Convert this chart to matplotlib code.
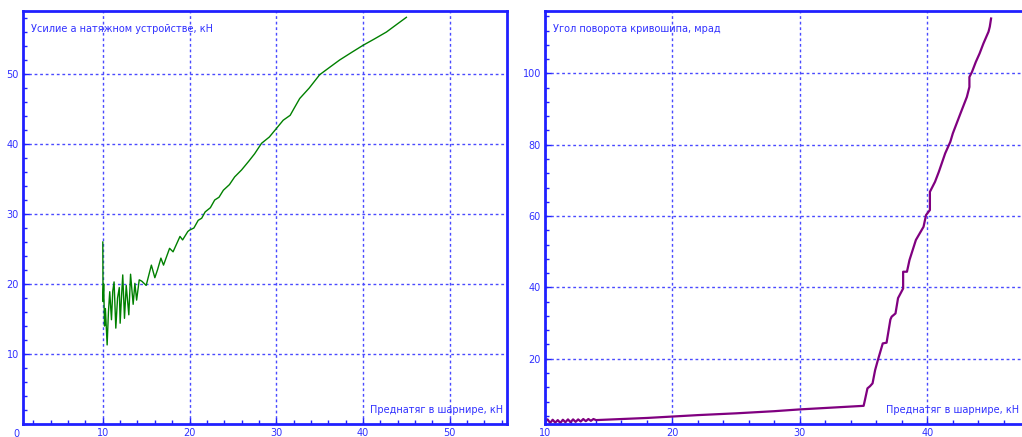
import matplotlib
matplotlib.use('Agg')
import matplotlib.pyplot as plt
from matplotlib.ticker import MultipleLocator
import matplotlib.transforms as mtransforms

# Left chart: tension device force vs hinge preload
force_x = [10.0, 10.03, 10.1, 10.2, 10.3, 10.5, 10.65, 10.8, 11.0, 11.15,
           11.3, 11.5, 11.7, 11.9, 12.0, 12.15, 12.3, 12.5, 12.7, 13.0,
           13.2, 13.5, 13.7, 13.9, 14.2, 14.5, 15.0, 15.6, 16.0, 16.3,
           16.7, 17.0, 17.7, 18.1, 18.9, 19.2, 19.8, 20.0, 20.5, 21.0,
           21.4, 21.8, 22.4, 22.9, 23.4, 23.9, 24.6, 25.2, 26.0, 26.8,
           27.5, 28.3, 29.2, 30.0, 30.8, 31.6, 32.1, 32.7, 33.8, 35.0,
           36.2, 37.3, 38.7, 40.0, 41.3, 42.7, 43.9, 45.0]
force_y = [26.0, 17.5, 20.0, 14.0, 16.5, 11.3, 16.0, 18.9, 14.9, 19.0,
           20.3, 13.7, 18.0, 19.5, 14.4, 18.0, 21.3, 15.1, 19.8, 15.6,
           21.4, 17.1, 20.1, 17.7, 20.6, 20.4, 19.8, 22.7, 20.9, 22.0,
           23.7, 22.7, 25.1, 24.6, 26.8, 26.3, 27.5, 27.7, 28.0, 29.1,
           29.4, 30.3, 30.9, 32.0, 32.4, 33.4, 34.2, 35.3, 36.3, 37.5,
           38.6, 40.1, 41.0, 42.2, 43.4, 44.1, 45.2, 46.5, 48.0, 49.9,
           51.0, 52.0, 53.1, 54.1, 55.0, 56.0, 57.1, 58.1]

# Right chart: crank rotation angle vs hinge preload
angle_x = [10.0, 10.2, 10.4, 10.6, 10.8, 11.0, 11.2, 11.4, 11.6, 11.8,
           12.0, 12.2, 12.4, 12.6, 12.8, 13.0, 13.2, 13.4, 13.6, 13.8,
           14.0, 16.0, 18.0, 20.0, 22.0, 25.0, 28.0, 30.0, 32.0, 35.0,
           35.1, 35.3, 35.5, 35.7, 35.9, 36.1, 36.5, 36.8, 37.1, 37.2,
           37.5, 37.7, 38.1, 38.1, 38.4, 38.6, 39.1, 39.7, 39.9, 40.2,
           40.2, 40.2, 40.6, 40.9, 41.4, 41.8, 42.0, 42.6, 43.1, 43.3,
           43.3, 43.5, 43.8, 44.1, 44.4, 44.8, 44.9, 45.0]
angle_y = [2.3, 3.0, 2.0, 2.9, 2.1, 2.8, 2.0, 2.9, 2.2, 3.0,
           2.2, 3.0, 2.3, 3.0, 2.4, 3.1, 2.5, 3.1, 2.6, 3.1,
           2.8, 3.1, 3.4, 3.8, 4.2, 4.7, 5.3, 5.8, 6.2, 6.8,
           8.4, 11.7, 12.3, 13.1, 16.8, 19.4, 24.3, 24.5, 31.0, 31.8,
           32.7, 37.0, 39.7, 44.4, 44.4, 47.7, 53.3, 57.0, 60.3, 61.7,
           64.6, 66.8, 69.6, 72.4, 77.6, 80.8, 83.2, 88.8, 93.4, 96.2,
           99.0, 100.4, 103.2, 105.6, 108.4, 111.7, 113.1, 115.4]

left_title = 'Усилие а натяжном устройстве, кН'
right_title = 'Угол поворота кривошипа, мрад'
x_title = 'Преднатяг в шарнире, кН'

frame_color = '#2020ff'
text_color = '#3030ff'
grid_color = '#4a4aff'

plt.rcParams['font.family'] = ['DejaVu Sans']

fig = plt.figure(figsize=(10.22, 4.37), dpi=100)
ax1 = fig.add_axes([0.0225, 0.0297, 0.4736, 0.9451])
ax2 = fig.add_axes([0.5333, 0.0297, 0.4726, 0.9451])


def style_axes(ax, xmajor, xminor, ymajor, yminor):
    for s in ax.spines.values():
        s.set_color(frame_color)
        s.set_linewidth(2.0)
    ax.xaxis.set_major_locator(MultipleLocator(xmajor))
    ax.xaxis.set_minor_locator(MultipleLocator(xminor))
    ax.yaxis.set_major_locator(MultipleLocator(ymajor))
    ax.yaxis.set_minor_locator(MultipleLocator(yminor))
    ax.tick_params(which='both', direction='in', colors=frame_color,
                   labelcolor=text_color, labelsize=7)
    ax.tick_params(which='major', length=4, width=1, pad=3)
    ax.tick_params(which='minor', length=3, width=1)
    ax.grid(True, which='major', linestyle=(0, (2, 2)), color=grid_color,
            linewidth=1)
    ax.set_axisbelow(True)


# Left panel
ax1.plot(force_x, force_y, color='#008000', linewidth=1.0)
ax1.set_xlim(0.8, 56.6)
ax1.set_ylim(0, 59)
style_axes(ax1, 10, 2, 10, 2)
ax1.set_yticks([10, 20, 30, 40, 50])
ax1.text(0.0165, 0.956, left_title, transform=ax1.transAxes, fontsize=7,
         color=text_color, ha='left', va='center')
ax1.text(0.992, 0.022, x_title, transform=ax1.transAxes, fontsize=7,
         color=text_color, ha='right', va='bottom')
# the "0" label sits just left of the frame in the original
trans = mtransforms.blended_transform_factory(ax1.transData, ax1.transAxes)
ax1.text(0, -0.012, '0', transform=trans, fontsize=7, color=text_color,
         ha='center', va='top', clip_on=False)

# Right panel (frame runs past the right edge of the picture)
ax2.plot(angle_x, angle_y, color='#800080', linewidth=1.6)
ax2.set_xlim(10, 47.9)
ax2.set_ylim(1.7, 117.5)
style_axes(ax2, 10, 2, 20, 4)
ax2.set_xticks([10, 20, 30, 40])
ax2.set_yticks([20, 40, 60, 80, 100])
ax2.text(0.0165, 0.956, right_title, transform=ax2.transAxes, fontsize=7,
         color=text_color, ha='left', va='center')
trans2 = mtransforms.blended_transform_factory(fig.transFigure, ax2.transAxes)
ax2.text(0.997, 0.022, x_title, transform=trans2, fontsize=7,
         color=text_color, ha='right', va='bottom')

fig.savefig('out.png', dpi=100)
